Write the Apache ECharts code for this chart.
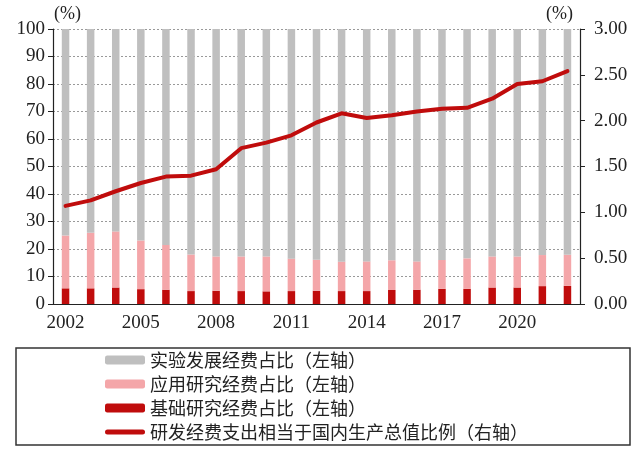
<!DOCTYPE html>
<html>
<head>
<meta charset="utf-8">
<script src="https://cdn.jsdelivr.net/npm/echarts@6/dist/echarts.min.js"></script>
<style>html,body{margin:0;padding:0;background:#fff}#c{width:643px;height:457px}</style>
</head>
<body>
<div id="c"></div>
<script>
const years = ['2002','2003','2004','2005','2006','2007','2008','2009','2010','2011','2012','2013','2014','2015','2016','2017','2018','2019','2020','2021','2022'];
const basic = [5.7,5.7,6.0,5.4,5.2,4.7,4.8,4.7,4.6,4.7,4.8,4.7,4.7,5.1,5.2,5.5,5.5,6.0,6.0,6.5,6.6];
const applied = [19.2,20.2,20.4,17.7,16.3,13.3,12.5,12.6,12.7,11.8,11.3,10.7,10.8,10.8,10.3,10.5,11.1,11.3,11.3,11.3,11.3];
const experimental = [75.1,74.1,73.6,76.9,78.5,82.0,82.7,82.7,82.7,83.5,83.9,84.6,84.5,84.1,84.5,84.0,83.4,82.7,82.7,82.2,82.1];
const rdRatio = [1.07,1.13,1.23,1.32,1.39,1.40,1.47,1.70,1.76,1.84,1.98,2.08,2.03,2.06,2.10,2.13,2.14,2.24,2.40,2.43,2.54];
const leftTicks = [0,10,20,30,40,50,60,70,80,90,100];
const rightTicks = [0,0.5,1.0,1.5,2.0,2.5,3.0];
const names = ['实验发展经费占比（左轴）','应用研究经费占比（左轴）','基础研究经费占比（左轴）','研发经费支出相当于国内生产总值比例（右轴）'];

const serif = '"Liberation Serif","Times New Roman",serif';
const chart = echarts.init(document.getElementById('c'));
chart.setOption({
  animation: false,
  backgroundColor: '#fff',
  grid: {left: 53, right: 63, top: 29, bottom: 153},
  legend: {
    orient: 'vertical', left: 105, top: 351, padding: 0,
    itemWidth: 40, itemHeight: 9, itemGap: 6,
    data: [names[0], names[1], names[2],
      {name: names[3], icon: 'path://M2.5,0 L37.5,0 A2.5,2.5 0 0 1 37.5,5 L2.5,5 A2.5,2.5 0 0 1 2.5,0 Z'}],
    textStyle: {fontFamily: '"Noto Sans CJK SC"', fontSize: 18, color: '#222', lineHeight: 18}
  },
  graphic: [{type: 'rect', shape: {x: 16, y: 348, width: 614, height: 97}, style: {fill: 'none', stroke: '#333', lineWidth: 1.5}, silent: true}],
  xAxis: {
    type: 'category', data: years, boundaryGap: true,
    axisLine: {lineStyle: {color: '#222', width: 1.2}},
    axisTick: {interval: 2, length: 5, lineStyle: {color: '#222'}},
    axisLabel: {interval: 2, margin: 10, fontFamily: serif, fontSize: 19, color: '#222'}
  },
  yAxis: [{
    type: 'value', min: 0, max: 100, interval: 10,
    name: '(%)', nameLocation: 'end', nameGap: 6,
    nameTextStyle: {fontFamily: serif, fontSize: 18, color: '#222', align: 'left', padding: [0, 0, 0, 1]},
    axisLine: {show: true, lineStyle: {color: '#222', width: 1.2}},
    axisTick: {show: true, length: 5, lineStyle: {color: '#222'}},
    axisLabel: {margin: 8, fontFamily: serif, fontSize: 19, color: '#222'},
    splitLine: {show: true, lineStyle: {color: '#999', type: [2, 2], width: 1}}
  }, {
    type: 'value', min: 0, max: 3, interval: 0.5,
    name: '(%)', nameLocation: 'end', nameGap: 6,
    nameTextStyle: {fontFamily: serif, fontSize: 18, color: '#222', align: 'right', padding: [0, 7, 0, 0]},
    axisLine: {show: true, lineStyle: {color: '#222', width: 1.2}},
    axisTick: {show: true, length: 5, lineStyle: {color: '#222'}},
    axisLabel: {margin: 14, fontFamily: serif, fontSize: 19, color: '#222', formatter: v => v.toFixed(2)},
    splitLine: {show: false}
  }],
  series: [
    {name: names[2], type: 'bar', stack: 's', data: basic, barWidth: 7.5, itemStyle: {color: '#c00c0c'}},
    {name: names[1], type: 'bar', stack: 's', data: applied, barWidth: 7.5, itemStyle: {color: '#f4a6a9'}},
    {name: names[0], type: 'bar', stack: 's', data: experimental, barWidth: 7.5, itemStyle: {color: '#bfbfbf'}},
    {name: names[3], type: 'line', yAxisIndex: 1, data: rdRatio, symbol: 'none', showSymbol: false,
     lineStyle: {color: '#c00c0c', width: 4, cap: 'round', join: 'round'}, itemStyle: {color: '#c00c0c'}}
  ]
});
</script>
</body>
</html>
